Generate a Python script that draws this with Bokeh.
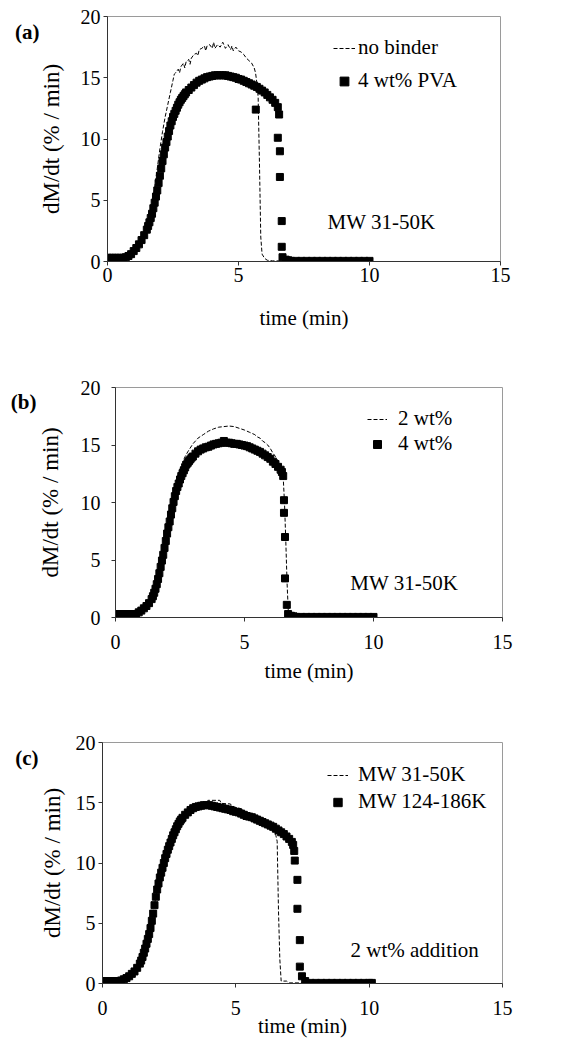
from bokeh.plotting import figure
from bokeh.models import (Range1d, Label, Legend, LegendItem, FixedTicker, ColumnDataSource,
                          LinearAxis)
from bokeh.embed import file_html
from bokeh.resources import INLINE

FONT = "Liberation Serif"

# ---------------- data ----------------
x_ticks = [0, 5, 10, 15]
y_ticks = [0, 5, 10, 15, 20]

# (a) no binder (line)
a_line_t = [0.0, 0.5, 0.7, 0.9, 1.0, 1.1, 1.2, 1.3, 1.4, 1.5, 1.6, 1.7, 1.8, 1.9, 2.0, 2.1, 2.2,
            2.3, 2.4, 2.5, 2.55, 2.6, 2.7, 2.75, 2.8, 2.9, 2.95, 3.0, 3.1, 3.15, 3.2, 3.3, 3.4,
            3.45, 3.5, 3.6, 3.7, 3.75, 3.8, 3.9, 4.0, 4.05, 4.1, 4.2, 4.3, 4.4, 4.5, 4.6, 4.7,
            4.75, 4.8, 4.9, 5.0, 5.1, 5.2, 5.3, 5.4, 5.5, 5.6, 5.65, 5.7, 5.75, 5.8, 5.85, 5.9,
            6.0, 6.1, 6.3, 10.0]
a_line_y = [0.3, 0.3, 0.35, 0.6, 0.8, 1.1, 1.45, 1.85, 2.3, 2.85, 3.6, 4.6, 6.0, 7.6, 9.2, 10.6, 11.8,
            12.8, 13.8, 14.8, 15.3, 15.4, 15.7, 15.4, 15.9, 16.2, 15.8, 16.3, 16.5, 16.1, 16.6, 16.9, 17.0,
            16.8, 17.3, 17.4, 17.6, 17.2, 17.6, 17.7, 17.4, 17.9, 17.4, 17.7, 17.5, 17.9, 17.4, 17.7, 17.3,
            17.6, 17.2, 17.5, 17.2, 17.1, 16.9, 16.6, 16.4, 16.2, 15.8, 15.4, 14.6, 13.4, 8.0, 2.0, 0.6,
            0.25, 0.1, 0.05, 0.05]

# (a) 4 wt% PVA (squares)
a_sq_t = [0.0, 0.1, 0.2, 0.3, 0.4, 0.5, 0.6, 0.7, 0.8, 0.9, 1.0, 1.1, 1.2, 1.3, 1.4,
          1.5, 1.55, 1.6, 1.65, 1.7, 1.75, 1.8, 1.85, 1.9, 1.95, 2.0, 2.05, 2.1, 2.15, 2.2, 2.25,
          2.3, 2.35, 2.4, 2.45, 2.5, 2.55, 2.6, 2.65, 2.7, 2.75, 2.8, 2.85, 2.9, 2.95, 3.0,
          3.1, 3.2, 3.3, 3.4, 3.5, 3.6, 3.7, 3.8, 3.9, 4.0, 4.1, 4.2, 4.3, 4.4, 4.5, 4.6, 4.7,
          4.8, 4.9, 5.0, 5.1, 5.2, 5.3, 5.4, 5.5, 5.6, 5.66, 5.7, 5.8, 5.9, 6.0, 6.1, 6.2, 6.3,
          6.4, 6.5, 6.55, 6.5, 6.58, 6.58, 6.65, 6.65, 6.68, 6.8, 6.9,
          7.0, 7.2, 7.4, 7.6, 7.8, 8.0, 8.2, 8.4, 8.6, 8.8, 9.0, 9.2, 9.4, 9.6, 9.8, 10.0]
a_sq_y = [0.3, 0.3, 0.3, 0.3, 0.3, 0.3, 0.3, 0.35, 0.45, 0.6, 0.85, 1.1, 1.4, 1.75, 2.15,
          2.6, 2.9, 3.2, 3.55, 3.9, 4.35, 4.8, 5.3, 5.8, 6.4, 7.0, 7.6, 8.2, 8.75, 9.3, 9.75,
          10.2, 10.65, 11.1, 11.45, 11.8, 12.05, 12.3, 12.55, 12.8, 13.0, 13.2, 13.35, 13.5, 13.65, 13.8,
          14.0, 14.2, 14.4, 14.6, 14.75, 14.85, 14.95, 15.05, 15.1, 15.15, 15.2, 15.2, 15.2, 15.2, 15.2, 15.15, 15.1,
          15.05, 15.0, 14.9, 14.85, 14.75, 14.65, 14.55, 14.45, 14.35, 12.4, 14.25, 14.1, 13.95, 13.8, 13.6, 13.4, 13.2,
          12.95, 12.6, 12.0, 10.1, 9.0, 6.9, 3.3, 1.2, 0.35, 0.15, 0.1,
          0.05, 0.05, 0.05, 0.05, 0.05, 0.05, 0.05, 0.05, 0.05, 0.05, 0.05, 0.05, 0.05, 0.05, 0.05, 0.05]

# (b) 2 wt% (line)
b_line_t = [0.0, 0.8, 1.0, 1.2, 1.4, 1.5, 1.6, 1.7, 1.8, 1.9, 2.0, 2.1, 2.2, 2.3, 2.4, 2.5, 2.6,
            2.7, 2.8, 3.0, 3.2, 3.4, 3.6, 3.8, 4.0, 4.2, 4.4, 4.6, 4.8, 5.0, 5.2, 5.4, 5.5, 5.6,
            5.7, 5.8, 5.9, 6.0, 6.1, 6.2, 6.3, 6.4, 6.5, 6.55, 6.6, 6.65, 6.7, 6.8, 7.0, 10.0]
b_line_y = [0.3, 0.3, 0.6, 1.1, 1.8, 2.3, 3.0, 3.9, 5.0, 6.2, 7.5, 8.9, 10.2, 11.3, 12.2, 12.9, 13.5,
            14.0, 14.4, 15.1, 15.6, 15.9, 16.2, 16.4, 16.55, 16.6, 16.65, 16.6, 16.45, 16.3, 16.1, 15.9, 15.7, 15.6,
            15.35, 15.2, 15.0, 14.7, 14.3, 14.0, 13.6, 13.1, 12.2, 10.0, 6.7, 3.0, 0.4, 0.15, 0.05, 0.05]

# (b) 4 wt% (squares)
b_sq_t = [0.0, 0.1, 0.2, 0.3, 0.4, 0.5, 0.6, 0.7, 0.8, 0.9, 1.0, 1.1, 1.2, 1.3, 1.4, 1.45,
          1.5, 1.55, 1.6, 1.65, 1.7, 1.75, 1.8, 1.85, 1.9, 1.95, 2.0, 2.05, 2.1, 2.15, 2.2, 2.25,
          2.3, 2.35, 2.4, 2.45, 2.5, 2.55, 2.6, 2.65, 2.7, 2.75, 2.8, 2.85, 2.9, 2.95, 3.0,
          3.1, 3.2, 3.3, 3.4, 3.5, 3.6, 3.7, 3.8, 3.9, 4.0, 4.1, 4.2, 4.3, 4.4, 4.5, 4.6, 4.7,
          4.8, 4.9, 5.0, 5.1, 5.2, 5.3, 5.4, 5.5, 5.6, 5.7, 5.8, 5.9, 6.0, 6.1, 6.2, 6.3, 6.4,
          6.45, 6.5, 6.53, 6.53, 6.57, 6.57, 6.64, 6.69, 6.8, 6.9,
          7.0, 7.2, 7.4, 7.6, 7.8, 8.0, 8.2, 8.4, 8.6, 8.8, 9.0, 9.2, 9.4, 9.6, 9.8, 10.0]
b_sq_y = [0.3, 0.3, 0.3, 0.3, 0.3, 0.3, 0.3, 0.3, 0.3, 0.45, 0.6, 0.8, 1.0, 1.25, 1.6, 1.85,
          2.15, 2.5, 2.9, 3.35, 3.85, 4.4, 4.95, 5.45, 6.05, 6.65, 7.3, 7.85, 8.35, 8.95, 9.5, 10.05,
          10.55, 11.0, 11.35, 11.65, 12.0, 12.3, 12.55, 12.8, 13.05, 13.3, 13.45, 13.6, 13.75, 13.9, 14.0,
          14.25, 14.45, 14.6, 14.7, 14.8, 14.85, 14.95, 15.05, 15.1, 15.15, 15.2, 15.35, 15.2, 15.2, 15.15, 15.1, 15.1,
          15.05, 15.0, 14.95, 14.9, 14.8, 14.7, 14.6, 14.5, 14.4, 14.25, 14.1, 13.95, 13.8, 13.55, 13.35, 13.1, 12.85,
          12.65, 12.3, 10.2, 9.1, 7.0, 3.4, 1.1, 0.3, 0.15, 0.1,
          0.05, 0.05, 0.05, 0.05, 0.05, 0.05, 0.05, 0.05, 0.05, 0.05, 0.05, 0.05, 0.05, 0.05, 0.05, 0.05]

# (c) MW 31-50K (line)
c_line_t = [0.0, 0.7, 1.0, 1.2, 1.4, 1.6, 1.8, 2.0, 2.2, 2.4, 2.6, 2.8, 3.0, 3.2, 3.4, 3.6, 3.9,
            3.95, 4.4, 4.45, 4.8, 4.85, 5.2, 5.25, 5.6, 5.65, 6.0, 6.2, 6.3, 6.4, 6.5, 6.55, 6.6,
            6.65, 6.7, 6.9, 7.0, 10.0]
c_line_y = [0.2, 0.25, 0.6, 1.0, 1.65, 2.9, 4.6, 7.2, 9.2, 10.75, 12.0, 13.05, 13.75, 14.2, 14.55, 14.75, 14.85,
            15.2, 15.2, 14.95, 14.9, 14.7, 14.5, 14.3, 14.1, 13.9, 13.7, 13.4, 13.0, 12.6, 12.3, 11.8, 6.0,
            2.0, 0.2, 0.2, 0.05, 0.05]

# (c) MW 124-186K (squares)
c_sq_t = [0.0, 0.1, 0.2, 0.3, 0.4, 0.5, 0.6, 0.7, 0.8, 0.9, 1.0, 1.1, 1.2, 1.3, 1.4, 1.45,
          1.5, 1.55, 1.6, 1.65, 1.7, 1.75, 1.8, 1.85, 1.9, 1.95, 2.0, 2.05, 2.1, 2.15, 2.2, 2.25,
          2.3, 2.35, 2.4, 2.45, 2.5, 2.55, 2.6, 2.65, 2.7, 2.75, 2.8, 2.85, 2.9, 2.95, 3.0,
          3.1, 3.2, 3.3, 3.4, 3.5, 3.6, 3.7, 3.8, 3.9, 4.0, 4.1, 4.2, 4.3, 4.4, 4.5, 4.6, 4.7,
          4.8, 4.9, 5.0, 5.1, 5.2, 5.3, 5.4, 5.5, 5.6, 5.7, 5.8, 5.9, 6.0, 6.1, 6.2, 6.3, 6.4,
          6.5, 6.6, 6.7, 6.8, 6.9, 7.0, 7.1, 7.15, 7.19, 7.21, 7.31, 7.31, 7.4, 7.4, 7.48, 7.6,
          7.8, 8.0, 8.2, 8.4, 8.6, 8.8, 9.0, 9.2, 9.4, 9.6, 9.8, 10.0, 10.1]
c_sq_y = [0.2, 0.2, 0.2, 0.2, 0.2, 0.2, 0.2, 0.25, 0.35, 0.45, 0.6, 0.8, 1.0, 1.3, 1.65, 1.9,
          2.2, 2.55, 2.9, 3.3, 3.7, 4.1, 4.6, 5.2, 5.8, 6.5, 7.2, 7.8, 8.3, 8.8, 9.2, 9.6,
          10.0, 10.4, 10.75, 11.1, 11.4, 11.7, 12.0, 12.3, 12.55, 12.8, 13.05, 13.25, 13.45, 13.6, 13.75,
          14.0, 14.2, 14.4, 14.55, 14.65, 14.7, 14.75, 14.8, 14.8, 14.8, 14.75, 14.7, 14.65, 14.6, 14.55, 14.5, 14.45,
          14.4, 14.3, 14.25, 14.2, 14.1, 14.0, 13.9, 13.85, 13.8, 13.7, 13.6, 13.5, 13.4, 13.3, 13.2, 13.1, 13.0,
          12.85, 12.7, 12.55, 12.4, 12.2, 12.0, 11.75, 11.5, 11.0, 10.2, 8.6, 6.2, 3.6, 1.4, 0.6, 0.2,
          0.05, 0.05, 0.05, 0.05, 0.05, 0.05, 0.05, 0.05, 0.05, 0.05, 0.05, 0.05, 0.05]

panel_tags = ["(a)", "(b)", "(c)"]
legend_labels = [["no binder", "4 wt% PVA"], ["2 wt%", "4 wt%"], ["MW 31-50K", "MW 124-186K"]]
notes = ["MW 31-50K", "MW 31-50K", "2 wt% addition"]
x_label = "time (min)"
y_label = "dM/dt (% / min)"
tag_y = 18.7


def make_panel(line_t, line_y, sq_t, sq_y, tag, labels, note, cfg):
    p = figure(frame_width=cfg["fw"], frame_height=cfg["fh"],
               min_border_left=cfg["bl"], min_border_right=cfg["br"],
               min_border_top=cfg["bt"], min_border_bottom=cfg["bb"],
               x_range=Range1d(0, 15), y_range=Range1d(0, 20),
               output_backend="svg", toolbar_location=None)
    p.background_fill_color = "white"
    p.border_fill_color = "white"
    p.outline_line_color = "#9a9a9a"
    p.outline_line_width = 1
    p.xgrid.visible = False
    p.ygrid.visible = False

    for ax in (p.xaxis[0], p.yaxis[0]):
        ax.axis_line_color = "#333333"
        ax.major_tick_line_color = "#333333"
        ax.major_tick_out = 4
        ax.major_tick_in = 0
        ax.minor_tick_line_color = None
        ax.major_label_text_font = FONT
        ax.major_label_text_font_size = "20px"
        ax.major_label_text_color = "black"
        ax.axis_label_text_font = FONT
        ax.axis_label_text_font_style = "normal"
        ax.axis_label_text_color = "black"
    p.xaxis.ticker = FixedTicker(ticks=x_ticks)
    p.yaxis.ticker = FixedTicker(ticks=y_ticks)
    p.xaxis.axis_label = x_label
    p.yaxis.axis_label = y_label
    p.xaxis.axis_label_text_font_size = "21px"
    p.yaxis.axis_label_text_font_size = "23px"
    p.xaxis.major_label_standoff = cfg["xs1"]
    p.xaxis.axis_label_standoff = cfg["xs2"]
    p.yaxis.major_label_standoff = cfg["ys1"]
    p.yaxis.axis_label_standoff = cfg["ys2"]

    # panel tag "(a)" etc. as the single label of an outer, bare left axis
    tag_axis = LinearAxis(ticker=FixedTicker(ticks=[tag_y]),
                          major_label_overrides={tag_y: tag},
                          axis_line_color=None, major_tick_line_color=None,
                          minor_tick_line_color=None, major_tick_out=0, major_tick_in=0,
                          major_label_standoff=cfg["tag_st"],
                          major_label_text_font=FONT, major_label_text_font_size="21px",
                          major_label_text_font_style="bold", major_label_text_color="black")
    p.add_layout(tag_axis, "left")

    lsrc = ColumnDataSource(dict(t=line_t, y=line_y))
    ssrc = ColumnDataSource(dict(t=sq_t, y=sq_y))
    r_line = p.line("t", "y", source=lsrc, line_color="black", line_width=1, line_dash="4 2")
    r_sq = p.scatter("t", "y", source=ssrc, marker="square", size=7,
                     fill_color="black", line_color="black")

    leg = Legend(items=[LegendItem(label=labels[0], renderers=[r_line]),
                        LegendItem(label=labels[1], renderers=[r_sq])],
                 location=cfg["leg_loc"], padding=0, margin=0, border_line_color=None,
                 background_fill_alpha=0, label_text_font=FONT, label_text_font_size="21px",
                 label_text_color="black", glyph_width=cfg["gw"], glyph_height=22,
                 label_height=22, label_standoff=cfg["lst"], spacing=cfg["sp"])
    p.add_layout(leg, "center")

    p.add_layout(Label(x=cfg["note"][0], y=cfg["note"][1], text=note, text_font=FONT,
                       text_font_size="21px", text_baseline="middle", text_align="left",
                       text_color="black"))
    return p


cfg_a = dict(fw=393, fh=245, bl=107, br=70, bt=16, bb=79, xs1=2, xs2=21, ys1=3, ys2=14, tag_st=-4,
             leg_loc=(226, 168), gw=22, lst=3, sp=8, note=(8.4, 3.2))
cfg_b = dict(fw=387, fh=230, bl=115, br=68, bt=47, bb=73, xs1=13, xs2=7, ys1=11, ys2=15, tag_st=-2,
             leg_loc=(252, 161), gw=20, lst=11, sp=-7, note=(9.1, 3.0))
cfg_c = dict(fw=400, fh=241, bl=102, br=68, bt=52, bb=59, xs1=13, xs2=-4, ys1=3, ys2=8, tag_st=-2,
             leg_loc=(225, 169), gw=21, lst=10, sp=2, note=(9.3, 2.75))

pa = make_panel(a_line_t, a_line_y, a_sq_t, a_sq_y, panel_tags[0], legend_labels[0], notes[0], cfg_a)
pb = make_panel(b_line_t, b_line_y, b_sq_t, b_sq_y, panel_tags[1], legend_labels[1], notes[1], cfg_b)
pc = make_panel(c_line_t, c_line_y, c_sq_t, c_sq_y, panel_tags[2], legend_labels[2], notes[2], cfg_c)

# three independent roots, stacked in the page
open("out.html", "w").write(file_html([pa, pb, pc], INLINE))
